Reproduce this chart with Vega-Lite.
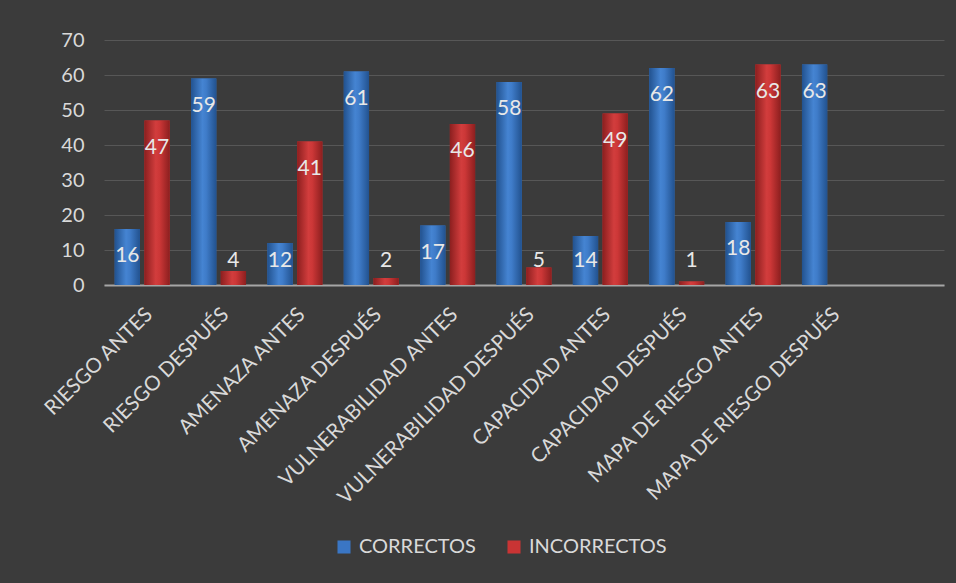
{
  "$schema": "https://vega.github.io/schema/vega-lite/v6.json",
  "width": 840,
  "height": 245,
  "autosize": {"type": "none"},
  "padding": {"left": 104, "top": 40, "right": 12, "bottom": 298},
  "background": "#3b3b3b",
  "config": {
    "view": {"stroke": null},
    "font": "Lato",
    "axis": {"labelColor": "#d9d9d9", "labelFont": "Lato"},
    "legend": {"labelColor": "#d9d9d9", "labelFont": "Lato"}
  },
  "data": {
    "values": [
      {"cat": "RIESGO ANTES", "serie": "CORRECTOS", "value": 16},
      {"cat": "RIESGO ANTES", "serie": "INCORRECTOS", "value": 47},
      {"cat": "RIESGO DESPUÉS", "serie": "CORRECTOS", "value": 59},
      {"cat": "RIESGO DESPUÉS", "serie": "INCORRECTOS", "value": 4},
      {"cat": "AMENAZA ANTES", "serie": "CORRECTOS", "value": 12},
      {"cat": "AMENAZA ANTES", "serie": "INCORRECTOS", "value": 41},
      {"cat": "AMENAZA DESPUÉS", "serie": "CORRECTOS", "value": 61},
      {"cat": "AMENAZA DESPUÉS", "serie": "INCORRECTOS", "value": 2},
      {"cat": "VULNERABILIDAD ANTES", "serie": "CORRECTOS", "value": 17},
      {"cat": "VULNERABILIDAD ANTES", "serie": "INCORRECTOS", "value": 46},
      {"cat": "VULNERABILIDAD DESPUÉS", "serie": "CORRECTOS", "value": 58},
      {"cat": "VULNERABILIDAD DESPUÉS", "serie": "INCORRECTOS", "value": 5},
      {"cat": "CAPACIDAD ANTES", "serie": "CORRECTOS", "value": 14},
      {"cat": "CAPACIDAD ANTES", "serie": "INCORRECTOS", "value": 49},
      {"cat": "CAPACIDAD DESPUÉS", "serie": "CORRECTOS", "value": 62},
      {"cat": "CAPACIDAD DESPUÉS", "serie": "INCORRECTOS", "value": 1},
      {"cat": "MAPA DE RIESGO ANTES", "serie": "CORRECTOS", "value": 18},
      {"cat": "MAPA DE RIESGO ANTES", "serie": "INCORRECTOS", "value": 63},
      {"cat": "MAPA DE RIESGO DESPUÉS", "serie": "CORRECTOS", "value": 63}
    ]
  },
  "encoding": {
    "x": {
      "field": "cat",
      "type": "nominal",
      "scale": {
        "domain": ["RIESGO ANTES", "RIESGO DESPUÉS", "AMENAZA ANTES", "AMENAZA DESPUÉS", "VULNERABILIDAD ANTES", "VULNERABILIDAD DESPUÉS", "CAPACIDAD ANTES", "CAPACIDAD DESPUÉS", "MAPA DE RIESGO ANTES", "MAPA DE RIESGO DESPUÉS", " "],
        "paddingInner": 0.28,
        "paddingOuter": 0.14
      },
      "axis": {
        "title": null,
        "labelAngle": -45,
        "labelFontSize": 20.5,
        "labelAlign": "right",
        "labelBaseline": "top",
        "labelPadding": 19,
        "labelDx": -6,
        "labelDy": -2,
        "labelOverlap": false,
        "ticks": false,
        "domainColor": "#a6a6a6",
        "domainWidth": 2,
        "labelLimit": 400
      }
    },
    "xOffset": {"field": "serie", "type": "nominal", "scale": {"paddingInner": 0.15}},
    "y": {
      "field": "value",
      "type": "quantitative",
      "scale": {"domain": [0, 70], "nice": false},
      "axis": {
        "title": null,
        "values": [0, 10, 20, 30, 40, 50, 60, 70],
        "tickCount": 8,
        "labelOverlap": false,
        "labelFontSize": 20,
        "labelPadding": 20,
        "ticks": false,
        "domain": false,
        "gridColor": "#575757",
        "gridWidth": 1
      }
    }
  },
  "layer": [
    {
      "mark": {"type": "bar"},
      "encoding": {
        "color": {
          "field": "serie",
          "type": "nominal",
          "scale": {"domain": ["CORRECTOS", "INCORRECTOS"], "range": ["#3a76c4", "#c93434"]},
          "legend": {
            "title": null,
            "orient": "none",
            "direction": "horizontal",
            "legendX": 230,
            "legendY": 497,
            "symbolType": "square",
            "symbolSize": 170,
            "labelFontSize": 20,
            "columnPadding": 28,
            "labelOffset": 5
          }
        }
      }
    },
    {
      "transform": [{"filter": "datum.serie === 'CORRECTOS'"}],
      "mark": {
        "type": "bar",
        "fill": {
          "gradient": "linear", "x1": 0, "y1": 0, "x2": 1, "y2": 0,
          "stops": [
            {"offset": 0, "color": "#22528f"},
            {"offset": 0.45, "color": "#4584d2"},
            {"offset": 0.6, "color": "#3f7cc9"},
            {"offset": 1, "color": "#22528f"}
          ]
        }
      }
    },
    {
      "transform": [{"filter": "datum.serie === 'INCORRECTOS'"}],
      "mark": {
        "type": "bar",
        "fill": {
          "gradient": "linear", "x1": 0, "y1": 0, "x2": 1, "y2": 0,
          "stops": [
            {"offset": 0, "color": "#8c1f1f"},
            {"offset": 0.45, "color": "#d23d3d"},
            {"offset": 0.6, "color": "#cc3737"},
            {"offset": 1, "color": "#8c1f1f"}
          ]
        }
      }
    },
    {
      "transform": [{"filter": "datum.value >= 15"}],
      "mark": {"type": "text", "fontSize": 21, "color": "#e8e8e8", "dy": 27, "baseline": "middle"},
      "encoding": {
        "text": {"field": "value", "type": "quantitative"}
      }
    },
    {
      "transform": [{"filter": "datum.value < 15"}],
      "mark": {"type": "text", "fontSize": 21, "color": "#e8e8e8", "baseline": "middle"},
      "encoding": {
        "y": {"datum": 7, "type": "quantitative"},
        "text": {"field": "value", "type": "quantitative"}
      }
    }
  ]
}
